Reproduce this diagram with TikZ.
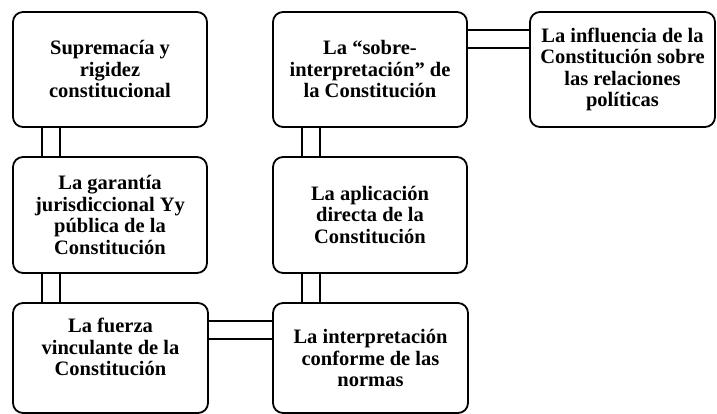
\documentclass[tikz,border=0pt]{standalone}
\usepackage{fontspec}
\setmainfont{Liberation Serif}
\usepackage{tikz}

\begin{document}
\begin{tikzpicture}[x=1pt, y=1pt,
	box/.style={shape=rectangle, rounded corners=10pt, draw=black, line width=1.8pt, fill=white, minimum width=194pt, minimum height=115pt, inner sep=0pt, align=center, font=\fontsize{20.5pt}{21.5pt}\selectfont\bfseries},
	link/.style={-, line width=1.8pt}]
	
	\fill[white] (0, 0) rectangle (717, -414);
	\useasboundingbox (0, 0) rectangle (717, -414);
	
	\node[box] (sup) at (110, -69.5)   {Supremacía y\\rigidez\\constitucional};
	\node[box, minimum height=116pt] (gar) at (110, -215)   {La garantía\\jurisdiccional Yy\\pública de la\\Constitución};
	\node[box, minimum width=195pt, minimum height=110pt] (fue) at (110.5, -358)   {La fuerza\\vinculante de la\\Constitución\\ \mbox{}};
	\node[box] (sob) at (370, -69.5)   {La “sobre-\\interpretación” de\\la Constitución};
	\node[box, minimum height=116pt] (apl) at (370, -215)   {La aplicación\\directa de la\\Constitución};
	\node[box, minimum width=195pt, minimum height=110pt] (int) at (370.5, -358)   {La interpretación\\conforme de las\\normas};
	\node[box, minimum width=185pt] (inf) at (622.5, -69.5)   {La influencia de la\\Constitución sobre\\las relaciones\\políticas};

	\foreach \dx in {30, 48} {
		\path[link] ([xshift=\dx]sup.south west) edge ([xshift=\dx]gar.north west);
		\path[link] ([xshift=\dx]gar.south west) edge ([xshift=\dx]fue.north west);
		\path[link] ([xshift=\dx]sob.south west) edge ([xshift=\dx]apl.north west);
		\path[link] ([xshift=\dx]apl.south west) edge ([xshift=\dx]int.north west);
	}
	\foreach \dy in {-19, -37} {
		\path[link] ([yshift=\dy]sob.north east) edge ([yshift=\dy]inf.north west);
		\path[link] ([yshift=\dy]fue.north east) edge ([yshift=\dy]int.north west);
	}
	
\end{tikzpicture}
\end{document}
